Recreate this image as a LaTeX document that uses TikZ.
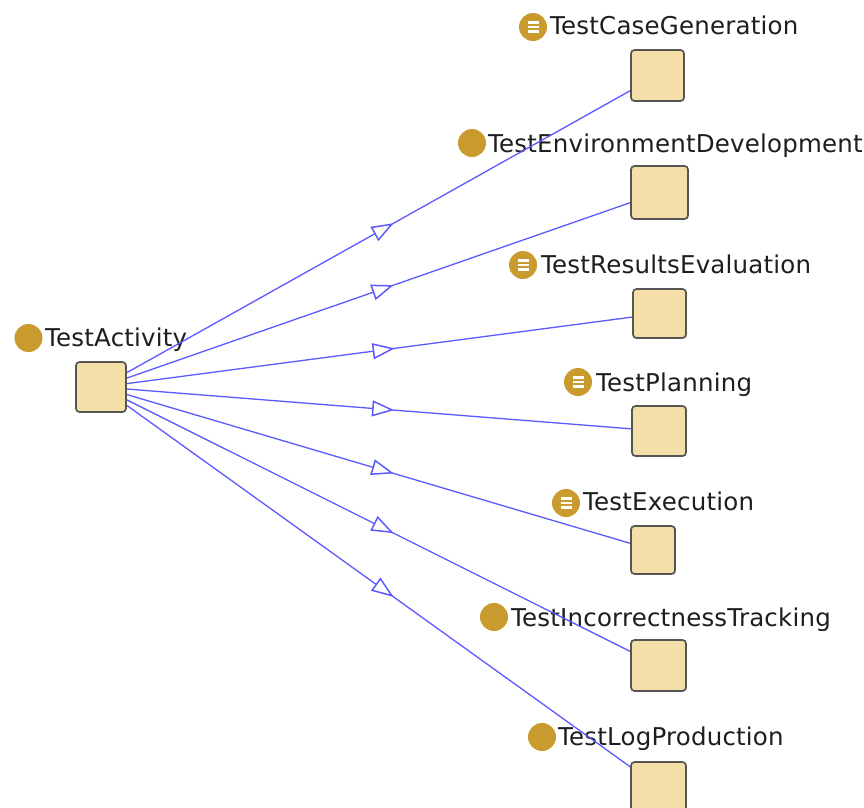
\documentclass[tikz,border=0pt]{standalone}
\usepackage{fontspec}
\setmainfont{DejaVu Sans}
\usetikzlibrary{arrows.meta,decorations.markings}
\definecolor{dotcol}{HTML}{C99A2E}
\definecolor{boxfill}{HTML}{F5DFA8}
\definecolor{boxline}{HTML}{555555}
\definecolor{edgecol}{HTML}{5A5AFF}
\definecolor{txtcol}{HTML}{1E1E1E}
\tikzset{
  box/.style={draw=boxline, fill=boxfill, rounded corners=3.5pt, line width=1.7pt, inner sep=0pt},
  lbl/.style={font=\fontsize{24.5}{28}\selectfont\addfontfeatures{LetterSpace=0.8}, text=txtcol, anchor=base west, inner sep=0pt},
  dot/.style={circle, fill=dotcol, minimum size=28pt, inner sep=0pt},
  dotl/.style={dot, path picture={
     \foreach \s in {-4.5,0,4.5}{
       \draw[white, line width=2.2pt] ([xshift=-5.5pt,yshift=\s pt]path picture bounding box.center) -- ([xshift=5.5pt,yshift=\s pt]path picture bounding box.center);}
  }},
  isa/.style={draw=edgecol, line width=1.3pt, postaction={decorate},
    decoration={markings, mark=at position 0.53 with {\arrow{Triangle[open, length=22pt, width=16pt, fill=white, line width=1.5pt]}}}}
}
\begin{document}
\begin{tikzpicture}[x=1pt,y=-1pt]
\useasboundingbox[fill=white] (0,0) rectangle (864,807);
% root
\node[dot] (dA) at (28.5,338) {};
\node[lbl] (tA) at (45,346) {TestActivity};
\node[box, minimum width=50pt, minimum height=50pt] (A) at (101,387) {};
% children
\node[dotl] (d1) at (533,27) {};
\node[lbl] (t1) at (550,34) {TestCaseGeneration};
\node[box, minimum width=53pt, minimum height=51pt] (B1) at (657.5,75.5) {};

\node[dot] (d2) at (472,143) {};
\node[lbl] (t2) at (488,152) {TestEnvironmentDevelopment};
\node[box, minimum width=57pt, minimum height=53pt] (B2) at (659.5,192.5) {};

\node[dotl] (d3) at (523,265) {};
\node[lbl] (t3) at (541,273) {TestResultsEvaluation};
\node[box, minimum width=53pt, minimum height=49pt] (B3) at (659.5,313.5) {};

\node[dotl] (d4) at (578,382) {};
\node[lbl] (t4) at (596,391) {TestPlanning};
\node[box, minimum width=54pt, minimum height=50pt] (B4) at (659,431) {};

\node[dotl] (d5) at (566,503) {};
\node[lbl] (t5) at (583,510) {TestExecution};
\node[box, minimum width=44pt, minimum height=48pt] (B5) at (653,550) {};

\node[dot] (d6) at (494,617) {};
\node[lbl] (t6) at (511,626) {TestIncorrectnessTracking};
\node[box, minimum width=55pt, minimum height=51pt] (B6) at (658.5,665.5) {};

\node[dot] (d7) at (542,737) {};
\node[lbl] (t7) at (558,745) {TestLogProduction};
\node[box, minimum width=55pt, minimum height=50pt] (B7) at (658.5,787) {};
% edges
\foreach \b in {B1,B2,B3,B4,B5,B6,B7}{
  \draw[isa] (A) -- (\b);
}
\end{tikzpicture}
\end{document}
